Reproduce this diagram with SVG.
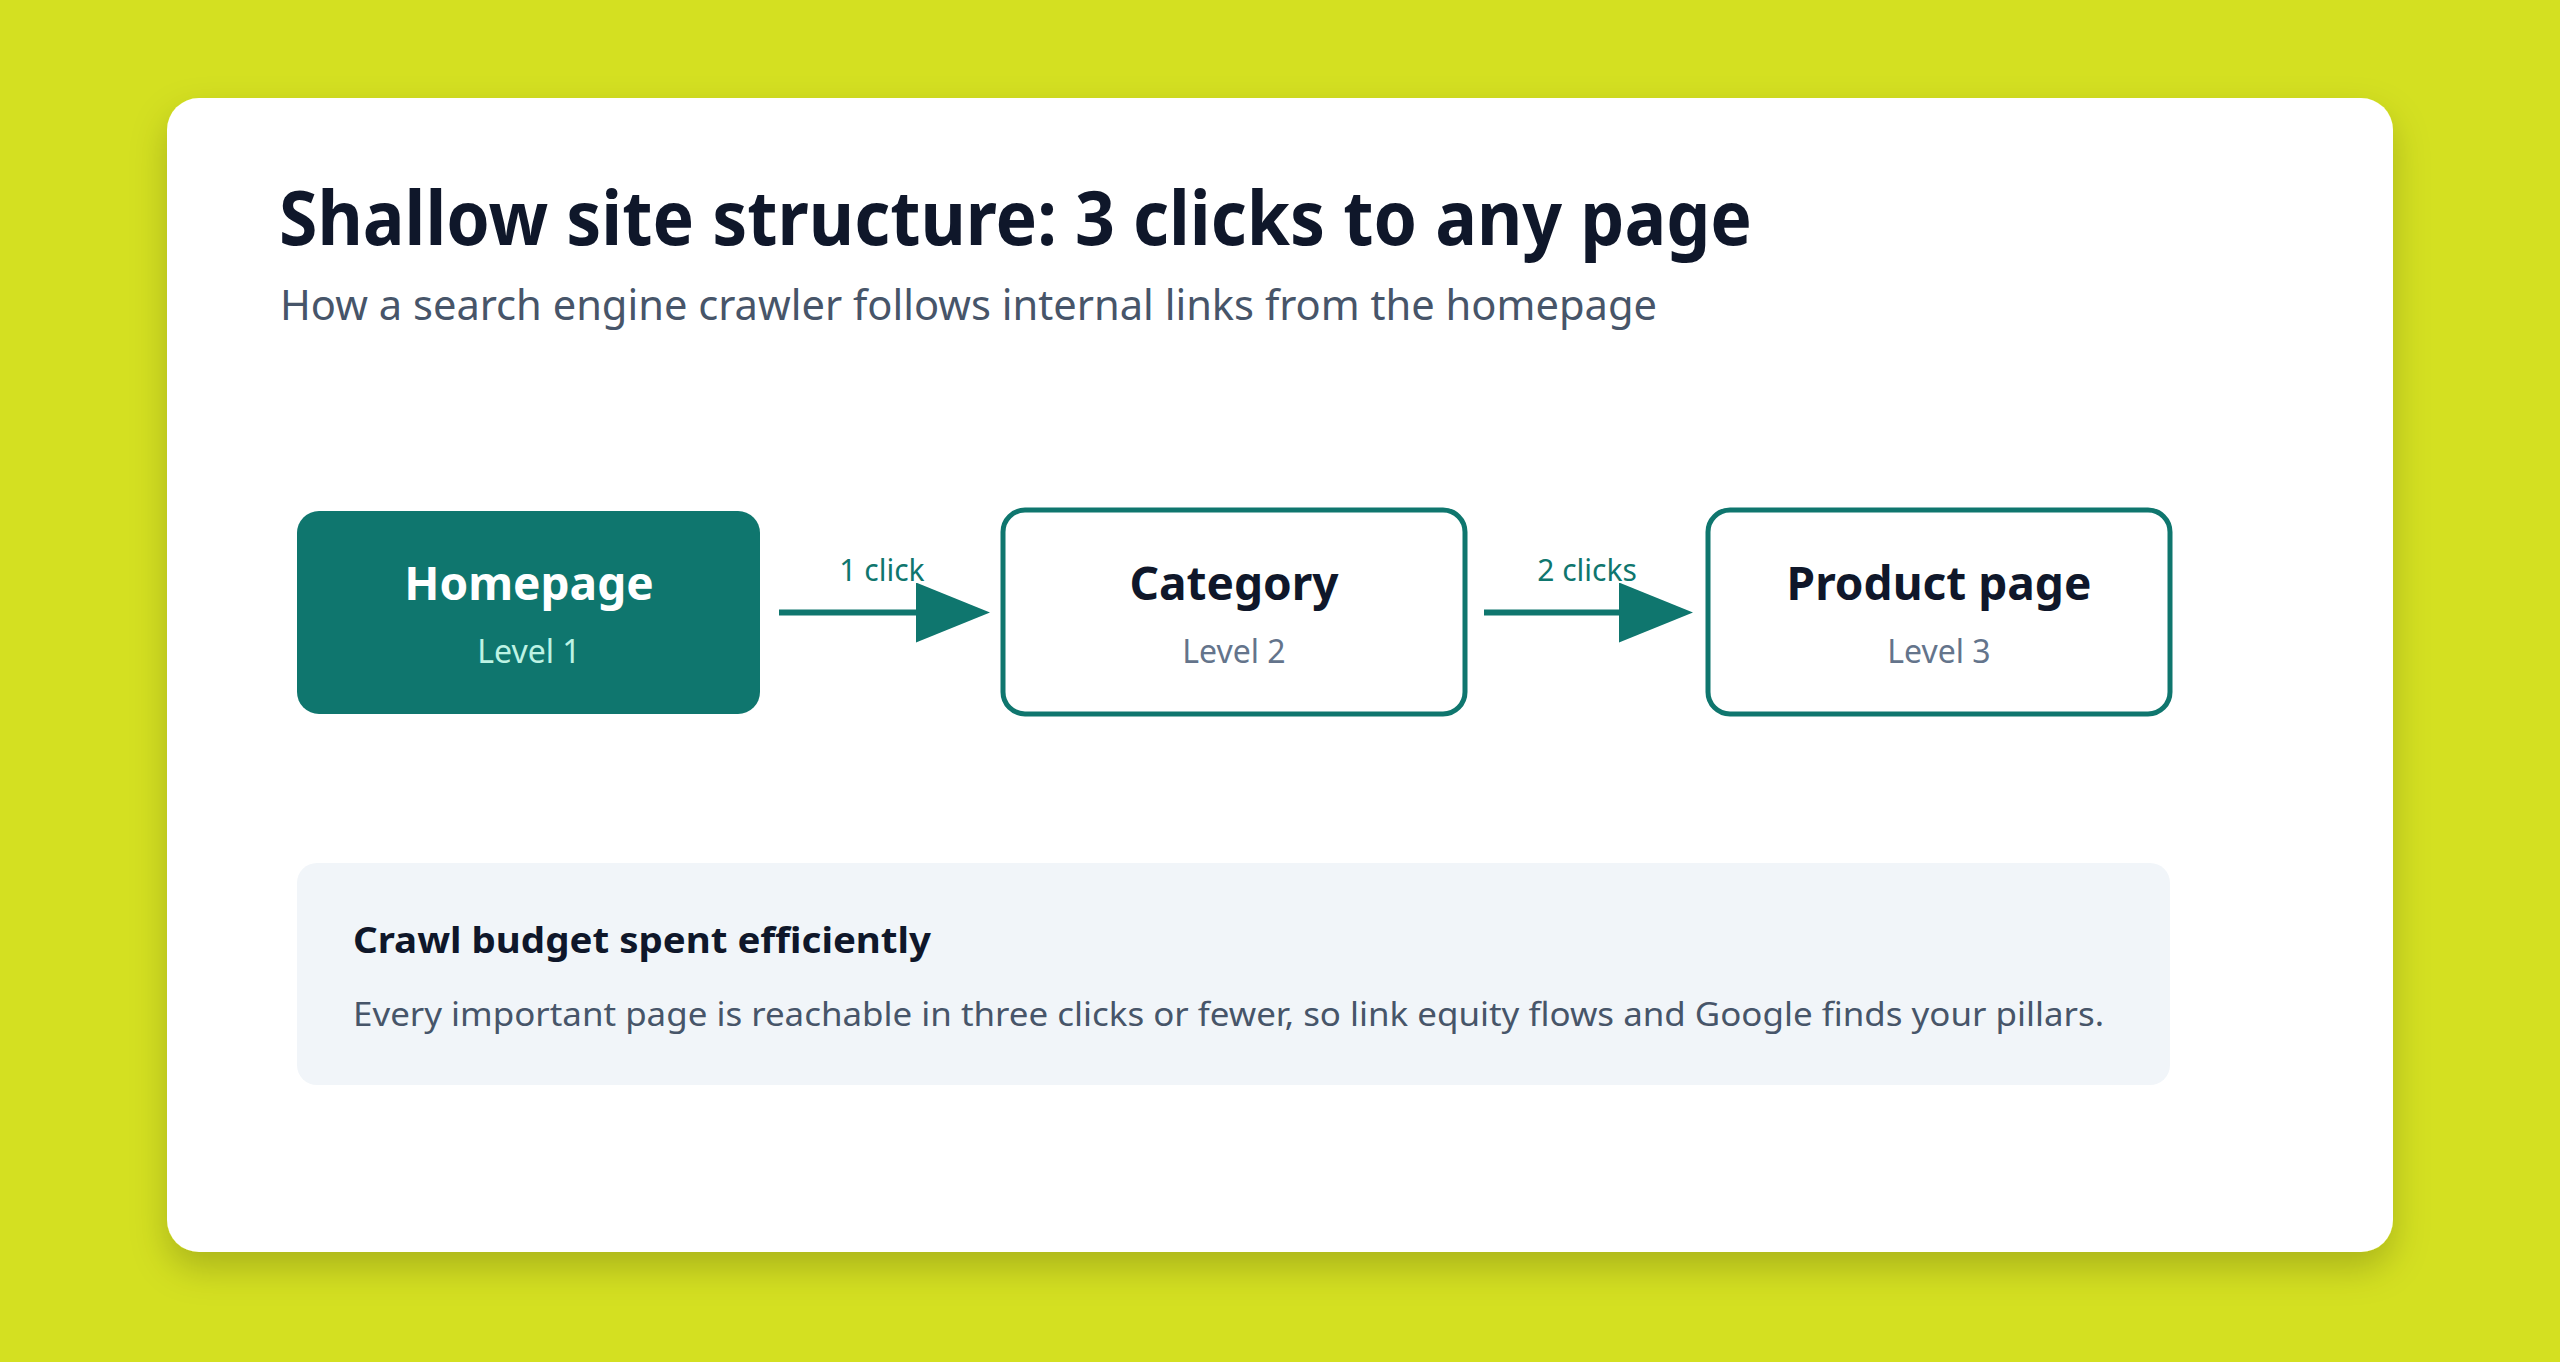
<svg xmlns="http://www.w3.org/2000/svg" width="2560" height="1362" viewBox="0 0 2560 1362">
  <style>
    .title { font-family: "Noto Sans", "Open Sans", sans-serif; font-weight: 700; font-size: 76px; fill: #0F172A; }
    .subtitle { font-family: "Noto Sans", "Open Sans", sans-serif; font-size: 41px; fill: #475569; }
    .node-box { fill: #FFFFFF; stroke: #0F766E; stroke-width: 5; }
    .node-box.primary { fill: #0F766E; stroke: none; }
    .node-label { font-family: "Noto Sans", "Open Sans", sans-serif; font-weight: 700; font-size: 46px; fill: #0F172A; text-anchor: middle; }
    .node-label.primary { fill: #FFFFFF; }
    .node-sub { font-family: "Noto Sans", "Open Sans", sans-serif; font-size: 32px; fill: #64748B; text-anchor: middle; }
    .node-sub.primary { fill: #BDF3E4; }
    .edge { stroke: #0F766E; stroke-width: 6; fill: none; marker-end: url(#arrow); }
    .edge-label { font-family: "Noto Sans", "Open Sans", sans-serif; font-size: 30px; fill: #0F766E; text-anchor: middle; }
    .callout-title { font-family: "Noto Sans", "Open Sans", sans-serif; font-weight: 700; font-size: 35px; fill: #0F172A; }
    .callout-body { font-family: "Noto Sans", "Open Sans", sans-serif; font-size: 32px; fill: #475569; }
  </style>
  <defs>
    <marker id="arrow" viewBox="0 0 74 60" markerWidth="74" markerHeight="60" refX="44" refY="30" markerUnits="userSpaceOnUse" orient="auto">
      <path d="M0,0 L74,30 L0,60 Z" fill="#0F766E"/>
    </marker>
    <filter id="shadow" x="-10%" y="-10%" width="120%" height="125%">
      <feDropShadow dx="0" dy="16" stdDeviation="18" flood-color="#000000" flood-opacity="0.2"/>
    </filter>
  </defs>

  <rect x="0" y="0" width="2560" height="1362" fill="#D4E021"/>

  <g id="card">
    <rect x="167" y="98" width="2226" height="1154" rx="32" ry="32" fill="#FFFFFF" filter="url(#shadow)"/>
    <text class="title" x="279" y="245" textLength="1473" lengthAdjust="spacingAndGlyphs">Shallow site structure: 3 clicks to any page</text>
    <text class="subtitle" x="280" y="320" textLength="1377" lengthAdjust="spacingAndGlyphs">How a search engine crawler follows internal links from the homepage</text>
  </g>

  <g id="connectors">
    <g id="edge-1">
      <line class="edge" x1="779" y1="612.5" x2="960" y2="612.5"/>
      <text class="edge-label" x="882" y="581">1 click</text>
    </g>
    <g id="edge-2">
      <line class="edge" x1="1484" y1="612.5" x2="1663" y2="612.5"/>
      <text class="edge-label" x="1587" y="581">2 clicks</text>
    </g>
  </g>

  <g id="node-homepage">
    <rect class="node-box primary" x="297" y="511" width="463" height="203" rx="22" ry="22"/>
    <text class="node-label primary" x="529" y="600">Homepage</text>
    <text class="node-sub primary" x="529" y="663">Level 1</text>
  </g>

  <g id="node-category">
    <rect class="node-box" x="1003" y="510" width="462" height="204" rx="22" ry="22"/>
    <text class="node-label" x="1234" y="600">Category</text>
    <text class="node-sub" x="1234" y="663">Level 2</text>
  </g>

  <g id="node-product">
    <rect class="node-box" x="1708" y="510" width="462" height="204" rx="22" ry="22"/>
    <text class="node-label" x="1939" y="600">Product page</text>
    <text class="node-sub" x="1939" y="663">Level 3</text>
  </g>

  <g id="callout">
    <rect x="297" y="863" width="1873" height="222" rx="20" ry="20" fill="#F1F5F9"/>
    <text class="callout-title" x="353" y="953" textLength="578" lengthAdjust="spacingAndGlyphs">Crawl budget spent efficiently</text>
    <text class="callout-body" x="353" y="1026" textLength="1751" lengthAdjust="spacingAndGlyphs">Every important page is reachable in three clicks or fewer, so link equity flows and Google finds your pillars.</text>
  </g>
</svg>
